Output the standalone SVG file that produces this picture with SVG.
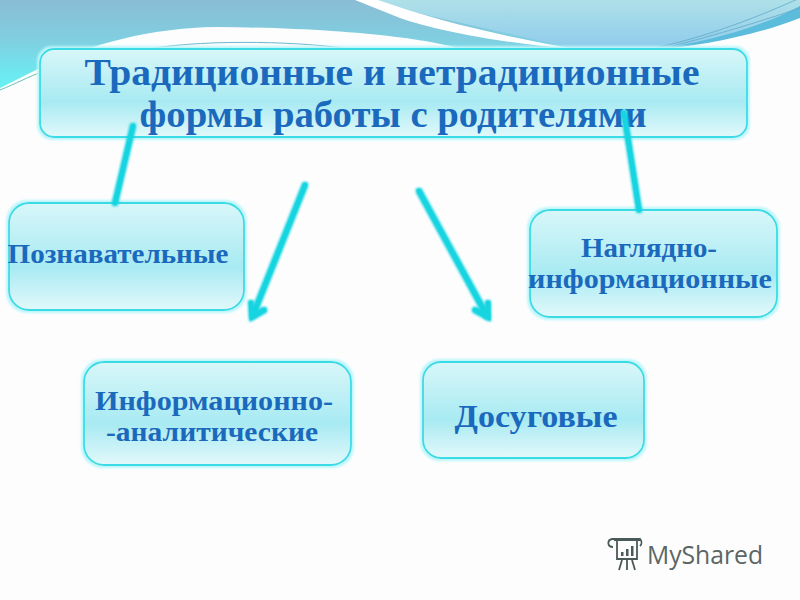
<svg xmlns="http://www.w3.org/2000/svg" width="800" height="600" viewBox="0 0 800 600">
<style>
.box{fill:url(#boxg);stroke:#3adbe6;stroke-width:1.8;filter:url(#boxglow)}
.t{font-family:"Liberation Serif",serif;font-weight:bold;fill:#1a69bd;text-anchor:middle}
.c{stroke:#14d4e0;stroke-width:4.5;fill:none;stroke-linecap:round;filter:url(#lg)}
.logo{stroke:#4a5a58;fill:none;stroke-width:1.8}
</style>
<defs>
<linearGradient id="boxg" x1="0" y1="0" x2="0" y2="1"><stop offset="0" stop-color="#d8f7f9"/><stop offset=".6" stop-color="#a8eaf2"/><stop offset="1" stop-color="#e2f9fb"/></linearGradient>
<linearGradient id="sky" gradientUnits="userSpaceOnUse" x1="0" y1="0" x2="0" y2="88"><stop offset="0" stop-color="#8abcd5"/><stop offset=".45" stop-color="#80cfe0"/><stop offset="1" stop-color="#66f2f5"/></linearGradient>
<linearGradient id="sky2" x1="0" y1="0" x2="0" y2="1"><stop offset="0" stop-color="#aee0e8"/><stop offset="1" stop-color="#8ccaec"/></linearGradient>
<filter id="lg" filterUnits="userSpaceOnUse" x="0" y="0" width="800" height="600"><feMorphology in="SourceGraphic" operator="dilate" radius="1"/><feGaussianBlur stdDeviation="1.3" result="b"/><feMerge><feMergeNode in="b"/><feMergeNode in="SourceGraphic"/></feMerge></filter>
<filter id="boxglow" x="-5%" y="-10%" width="110%" height="120%"><feMorphology in="SourceAlpha" operator="dilate" radius="2"/><feGaussianBlur stdDeviation="1.2"/><feColorMatrix values="0 0 0 0 .5 0 0 0 0 .92 0 0 0 0 .95 0 0 0 1 0" result="g"/><feMerge><feMergeNode in="g"/><feMergeNode in="SourceGraphic"/></feMerge></filter>
</defs>
<rect width="800" height="600" fill="#fdfdfe"/>
<g id="background">
<path d="M360 0H800V10C740 35 690 48 620 52H480Z" fill="url(#sky2)"/>
<path d="M0 0H360L590 52H470C440 40 350 28 217 27C150 28 90 44 40 68L0 88Z" fill="url(#sky)"/>
<path d="M355 0H378C440 22 510 38 582 50C510 44 440 32 400 18C385 12 370 6 355 0Z" fill="#fff"/>
<path d="M650 50C700 44 760 28 800 6V18C760 34 700 47 650 50Z" fill="#5bbcdc"/>
<path d="M655 48C710 36 760 16 800 -2M665 48C720 34 765 20 800 8" stroke="#5fa9c8" stroke-width=".8" fill="none"/>
<path d="M0 90C15 84 30 76 42 72" stroke="#63c4b8" stroke-width="1" fill="none"/>
<path d="M145 50C190 40 290 40 350 49" stroke="#6cb6d0" stroke-width="1" fill="none"/>
</g>
<g id="node-main"><rect class="box" x="40" y="49" width="707" height="88" rx="14"/>
<text class="t" font-size="37" x="392" y="85" textLength="615" lengthAdjust="spacingAndGlyphs">Традиционные и нетрадиционные</text>
<text class="t" font-size="37" x="393" y="127" textLength="507" lengthAdjust="spacingAndGlyphs">формы работы с родителями</text></g>
<g id="node-poznavatelnye"><rect class="box" x="9" y="203" width="235" height="107" rx="20"/>
<text class="t" font-size="27" x="118" y="263" textLength="221" lengthAdjust="spacingAndGlyphs">Познавательные</text></g>
<g id="node-naglyadno"><rect class="box" x="530" y="210" width="247" height="107" rx="20"/>
<text class="t" font-size="27" x="649" y="257" textLength="136" lengthAdjust="spacingAndGlyphs">Наглядно-</text>
<text class="t" font-size="27" x="650" y="288" textLength="244" lengthAdjust="spacingAndGlyphs">информационные</text></g>
<g id="node-informatsionno"><rect class="box" x="84" y="362" width="267" height="103" rx="20"/>
<text class="t" font-size="27" x="214" y="410" textLength="238" lengthAdjust="spacingAndGlyphs">Информационно-</text>
<text class="t" font-size="27" x="212" y="441" textLength="212" lengthAdjust="spacingAndGlyphs">-аналитические</text></g>
<g id="node-dosugovye"><rect class="box" x="423" y="362" width="221" height="96" rx="18"/>
<text class="t" font-size="32" x="536" y="427" textLength="163" lengthAdjust="spacingAndGlyphs">Досуговые</text></g>
<g id="connectors">
<line class="c" x1="133" y1="126" x2="115" y2="203"/>
<line class="c" x1="624" y1="113" x2="639" y2="210"/>
<line class="c" x1="305" y1="185" x2="253" y2="315"/>
<path class="c" d="M251 303L252 317L264 310"/>
<line class="c" x1="419" y1="191" x2="487" y2="316"/>
<path class="c" d="M475 310L488 317L488 303"/>
</g>
<g id="logo">
<path class="logo" d="M614 540H640M617 541V559H637V541M613 547C607 547 607 540 612 539H640C642 541 642 544 640 546"/>
<rect x="621" y="552" width="2.5" height="4" fill="#4a5a58"/><rect x="626" y="549" width="2.5" height="7" fill="#4a5a58"/><rect x="631" y="546" width="2.5" height="10" fill="#4a5a58"/>
<path class="logo" d="M622 560L619 570M627 560V570M632 560L635 570"/>
<text x="647" y="564" font-family="Open Sans,Liberation Sans,sans-serif" font-size="25" fill="#5b6664" textLength="116" lengthAdjust="spacingAndGlyphs">MyShared</text>
</g>
</svg>
